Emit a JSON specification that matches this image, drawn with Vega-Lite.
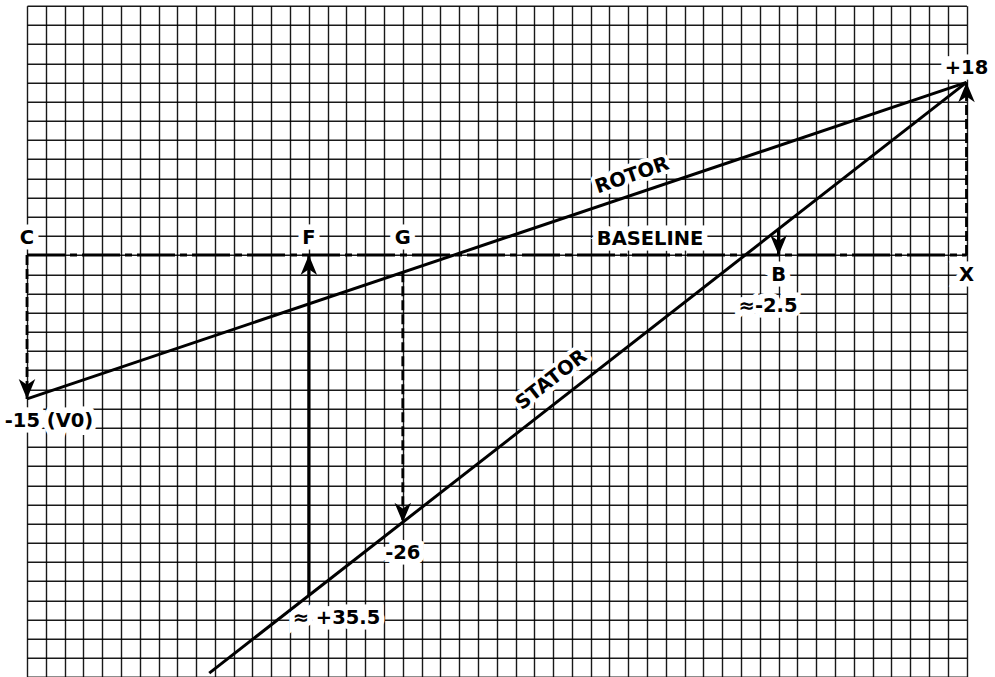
{
  "$schema": "https://vega.github.io/schema/vega-lite/v6.json",
  "autosize": "none",
  "width": 939.5,
  "height": 671.3,
  "padding": {"left": 27, "top": 5.7, "right": 28.5, "bottom": 0},
  "background": "white",
  "config": {
    "view": {"stroke": null},
    "axis": {"grid": true, "gridColor": "#000", "gridWidth": 1.4, "gridOpacity": 0.9, "domain": false, "ticks": false, "labels": false}
  },
  "layer": [
    {
      "data": {"values": [{"x": 0, "x2": 50, "y": 0}]},
      "mark": {"type": "rule", "color": "#000", "strokeWidth": 3, "strokeDash": [38, 5, 7, 5]},
      "encoding": {
        "x": {"field": "x", "type": "quantitative", "title": null, "scale": {"domain": [0, 50], "nice": false, "zero": false}, "axis": {"tickCount": 50, "grid": true}},
        "x2": {"field": "x2"},
        "y": {"field": "y", "type": "quantitative", "title": null, "scale": {"domain": [-44, 26], "nice": false, "zero": false}, "axis": {"tickCount": 35, "grid": true}}
      }
    },
    {
      "data": {"values": [
        {"line": "ROTOR", "x": 0, "y": -15},
        {"line": "ROTOR", "x": 50, "y": 18},
        {"line": "STATOR", "x": 9.7, "y": -43.6},
        {"line": "STATOR", "x": 50, "y": 18}
      ]},
      "mark": {"type": "line", "color": "#000", "strokeWidth": 3},
      "encoding": {
        "x": {"field": "x", "type": "quantitative", "title": null},
        "y": {"field": "y", "type": "quantitative", "title": null},
        "detail": {"field": "line"}
      }
    },
    {
      "data": {"values": [
        {"name": "C", "x": 0, "y": 0, "y2": -15},
        {"name": "X", "x": 50, "y": 0, "y2": 18},
        {"name": "G", "x": 20, "y": -1.8, "y2": -27.9}
      ]},
      "mark": {"type": "rule", "color": "#000", "strokeWidth": 2.8, "strokeDash": [10, 4]},
      "encoding": {
        "x": {"field": "x", "type": "quantitative", "title": null},
        "y": {"field": "y", "type": "quantitative", "title": null},
        "y2": {"field": "y2"}
      }
    },
    {
      "data": {"values": [
        {"name": "F", "x": 15, "y": -35.5, "y2": 0},
        {"name": "B", "x": 40, "y": 2.7, "y2": 0}
      ]},
      "mark": {"type": "rule", "color": "#000", "strokeWidth": 3.2},
      "encoding": {
        "x": {"field": "x", "type": "quantitative", "title": null},
        "y": {"field": "y", "type": "quantitative", "title": null},
        "y2": {"field": "y2"}
      }
    },
    {
      "data": {"values": [
        {"x": 0, "y": -15, "dir": "down"},
        {"x": 50, "y": 18, "dir": "up"},
        {"x": 20, "y": -27.9, "dir": "down"},
        {"x": 15, "y": 0, "dir": "up"},
        {"x": 40, "y": 0, "dir": "down"}
      ]},
      "mark": {"type": "point", "filled": true, "color": "#000", "opacity": 1, "size": 1100, "strokeWidth": 0},
      "encoding": {
        "x": {"field": "x", "type": "quantitative", "title": null},
        "y": {"field": "y", "type": "quantitative", "title": null},
        "shape": {"field": "dir", "type": "nominal", "legend": null, "scale": {"domain": ["down", "up"], "range": ["M0,0L-0.5,-1.2L0,-0.85L0.5,-1.2Z", "M0,0L-0.5,1.2L0,0.85L0.5,1.2Z"]}}
      }
    },
    {
      "data": {"values": [
        {"label": "C", "x": 0, "y": 1.8},
        {"label": "F", "x": 15, "y": 1.8},
        {"label": "G", "x": 20, "y": 1.8},
        {"label": "BASELINE", "x": 33.16, "y": 1.7},
        {"label": "B", "x": 40, "y": -2.1},
        {"label": "X", "x": 50, "y": -2.1},
        {"label": "≈-2.5", "x": 39.44, "y": -5.3},
        {"label": "+18", "x": 50, "y": 19.5},
        {"label": "-15 (V0)", "x": 1.17, "y": -17.3},
        {"label": "-26", "x": 20, "y": -31.1},
        {"label": "≈ +35.5", "x": 16.47, "y": -37.85},
        {"label": "ROTOR", "x": 32.2, "y": 8.3},
        {"label": "STATOR", "x": 27.9, "y": -13.0}
      ]},
      "encoding": {
        "x": {"field": "x", "type": "quantitative", "title": null},
        "y": {"field": "y", "type": "quantitative", "title": null},
        "text": {"field": "label"}
      },
      "layer": [
        {
          "transform": [{"filter": "datum.label !== 'ROTOR' && datum.label !== 'STATOR'"}],
          "mark": {"type": "text", "font": "DejaVu Sans", "fontWeight": "bold", "fontSize": 19.5, "align": "center", "baseline": "middle", "fill": "white", "stroke": "white", "strokeWidth": 11, "strokeJoin": "miter"}
        },
        {
          "transform": [{"filter": "datum.label === 'ROTOR'"}],
          "mark": {"type": "text", "font": "DejaVu Sans", "fontWeight": "bold", "fontSize": 19.5, "align": "center", "baseline": "middle", "angle": 341, "fill": "white", "stroke": "white", "strokeWidth": 8, "strokeJoin": "round"}
        },
        {
          "transform": [{"filter": "datum.label === 'STATOR'"}],
          "mark": {"type": "text", "font": "DejaVu Sans", "fontWeight": "bold", "fontSize": 19.5, "align": "center", "baseline": "middle", "angle": 322, "fill": "white", "stroke": "white", "strokeWidth": 8, "strokeJoin": "round"}
        },
        {
          "transform": [{"filter": "datum.label !== 'ROTOR' && datum.label !== 'STATOR'"}],
          "mark": {"type": "text", "font": "DejaVu Sans", "fontWeight": "bold", "fontSize": 19.5, "align": "center", "baseline": "middle", "color": "#000"}
        },
        {
          "transform": [{"filter": "datum.label === 'ROTOR'"}],
          "mark": {"type": "text", "font": "DejaVu Sans", "fontWeight": "bold", "fontSize": 19.5, "align": "center", "baseline": "middle", "angle": 341, "color": "#000"}
        },
        {
          "transform": [{"filter": "datum.label === 'STATOR'"}],
          "mark": {"type": "text", "font": "DejaVu Sans", "fontWeight": "bold", "fontSize": 19.5, "align": "center", "baseline": "middle", "angle": 322, "color": "#000"}
        }
      ]
    }
  ]
}
